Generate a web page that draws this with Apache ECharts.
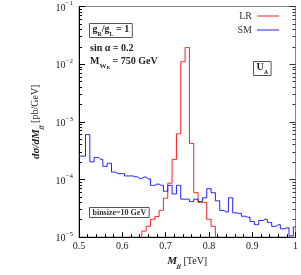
<!DOCTYPE html>
<html><head><meta charset="utf-8">
<script src="https://cdn.jsdelivr.net/npm/echarts@6/dist/echarts.min.js"></script>
<style>html,body{margin:0;padding:0;background:#fff}#c{width:301px;height:275px}</style>
</head><body><div id="c"></div>
<script>
// ---- data ----
const binCenters = [0.50,0.51,0.52,0.53,0.54,0.55,0.56,0.57,0.58,0.59,
  0.60,0.61,0.62,0.63,0.64,0.65,0.66,0.67,0.68,0.69,
  0.70,0.71,0.72,0.73,0.74,0.75,0.76,0.77,0.78,0.79,
  0.80,0.81,0.82,0.83,0.84,0.85,0.86,0.87,0.88,0.89,
  0.90,0.91,0.92,0.93,0.94,0.95,0.96,0.97,0.98,0.99,1.00];
const lrValues = [null,null,null,null,null,null,null,null,null,null,
  null,null,null,null,1e-7,1.27e-5,1.54e-5,2.04e-5,2.27e-5,2.91e-5,
  4.73e-5,8.6e-5,2.23e-4,6.2e-4,1.1e-2,1.94e-2,4.2e-4,5.9e-5,4.0e-5,4.0e-5,
  2.04e-5,1.54e-5,1e-7,null,null,null,null,null,null,null,
  null,null,null,null,null,null,null,null,null,null,null];
const smValues = [2.54e-4,2.54e-4,6.0e-4,2.02e-4,2.41e-4,2.23e-4,1.69e-4,1.91e-4,1.34e-4,1.26e-4,
  1.26e-4,1.15e-4,1.15e-4,1.11e-4,1.04e-4,1.10e-4,1.02e-4,7.9e-5,8.3e-5,7.9e-5,
  6.25e-5,7.9e-5,5.6e-5,7.9e-5,4.55e-5,4.55e-5,4.15e-5,4.55e-5,4.15e-5,4.8e-5,
  6.9e-5,5.9e-5,4.27e-5,2.9e-5,2.73e-5,4.8e-5,2.63e-5,2.57e-5,2.3e-5,2.2e-5,
  1.86e-5,1.64e-5,1.94e-5,2.04e-5,1.79e-5,1.54e-5,1.64e-5,1.39e-5,1.45e-5,1.05e-5,1.5e-5];
const seriesNames = ['LR','SM'];
const xTickValues = [0.5,0.6,0.7,0.8,0.9,1.0];
const xTickLabels = ['0.5','0.6','0.7','0.8','0.9','1'];
const yTickExponents = ['−5','−4','−3','−2','−1'];

// ---- chart ----
const FONT = 'Liberation Serif';
const yMin = 1e-5, yMax = 1e-1;
const minorTicks = [];
for (let e = -5; e < -1; e++) for (let m = 2; m <= 9; m++) minorTicks.push(m * Math.pow(10, e));

const supRich = {
  b: {fontFamily: FONT, fontSize: 10, color: '#222', verticalAlign: 'bottom', lineHeight: 13},
  s: {fontFamily: FONT, fontSize: 7, color: '#222', verticalAlign: 'top', lineHeight: 13}
};
function yLabel(v) {
  const e = Math.round(Math.log10(v));
  const i = e + 5;
  if (i < 0 || i >= yTickExponents.length) return '';
  return '{b|10}{s|' + yTickExponents[i] + '}';
}
function logAxis(pos, opts) {
  return Object.assign({
    type: 'log', logBase: 10, min: yMin, max: yMax, position: pos,
    axisLine: {show: false}, splitLine: {show: false},
    axisLabel: {show: false}, axisTick: {show: false}
  }, opts);
}
const chart = echarts.init(document.getElementById('c'), null, {renderer: 'canvas'});
chart.setOption({
  animation: false,
  backgroundColor: '#fff',
  grid: {left: 79, right: 5, top: 5, bottom: 27, show: true, borderColor: '#888', borderWidth: 1, containLabel: false},
  legend: {
    data: seriesNames.map(n => ({name: n, icon: 'rect'})), orient: 'vertical', align: 'right', right: 17, top: 6,
    itemWidth: 22, itemHeight: 1, itemGap: 4,
    textStyle: {fontFamily: FONT, fontSize: 10, color: '#333'}
  },
  xAxis: {
    type: 'value', min: 0.5, max: 1.0, interval: 0.1, position: 'bottom',
    axisLine: {show: true, onZero: false, lineStyle: {color: '#000', width: 1}},
    axisTick: {show: true, inside: true, length: 5, lineStyle: {color: '#000'}},
    minorTick: {show: true, splitNumber: 5, length: 3, lineStyle: {color: '#000'}},
    splitLine: {show: false},
    axisLabel: {fontFamily: FONT, fontSize: 10, color: '#222', margin: 4,
      formatter: v => { const i = xTickValues.findIndex(t => Math.abs(t - v) < 1e-6); return i >= 0 ? xTickLabels[i] : ''; }},
    name: '{i|M}{s|jj}{r| [TeV]}', nameLocation: 'middle', nameGap: 14,
    nameTextStyle: {rich: {
      i: {fontFamily: FONT, fontSize: 11, fontStyle: 'italic', fontWeight: 'bold', color: '#222', verticalAlign: 'top', lineHeight: 14},
      s: {fontFamily: FONT, fontSize: 7, fontStyle: 'italic', fontWeight: 'bold', color: '#222', verticalAlign: 'bottom', lineHeight: 14},
      r: {fontFamily: FONT, fontSize: 10, color: '#222', verticalAlign: 'top', lineHeight: 14}
    }}
  },
  yAxis: [
    logAxis('left', {
      axisLine: {show: true, lineStyle: {color: '#000', width: 1}},
      axisTick: {show: true, inside: true, length: 6, lineStyle: {color: '#000'}},
      axisLabel: {show: true, margin: 6, formatter: yLabel, rich: supRich},
      name: '{i|dσ/dM}{s|jj}{r| [pb/GeV]}', nameLocation: 'middle', nameGap: 32, nameRotate: 90,
      nameTextStyle: {rich: {
        i: {fontFamily: FONT, fontSize: 11, fontStyle: 'italic', fontWeight: 'bold', color: '#222', verticalAlign: 'top', lineHeight: 14},
        s: {fontFamily: FONT, fontSize: 7, fontStyle: 'italic', fontWeight: 'bold', color: '#222', verticalAlign: 'bottom', lineHeight: 14},
        r: {fontFamily: FONT, fontSize: 10, color: '#222', verticalAlign: 'top', lineHeight: 14}
      }}
    }),
    logAxis('left', {axisTick: {show: true, inside: true, length: 3, customValues: minorTicks, lineStyle: {color: '#000'}}}),
    logAxis('right', {
      axisLine: {show: true, lineStyle: {color: '#888', width: 1}},
      axisTick: {show: true, inside: true, length: 6, lineStyle: {color: '#333'}}
    }),
    logAxis('right', {axisTick: {show: true, inside: true, length: 3, customValues: minorTicks, lineStyle: {color: '#333'}}})
  ],
  series: [
    {name: seriesNames[0], type: 'line', step: 'middle', showSymbol: false, symbol: 'none', clip: true,
     yAxisIndex: 0, connectNulls: false, lineStyle: {color: '#ff2020', width: 1}, itemStyle: {color: '#ff2020'},
     data: binCenters.map((x, i) => [x, lrValues[i]])},
    {name: seriesNames[1], type: 'line', step: 'middle', showSymbol: false, symbol: 'none', clip: true,
     yAxisIndex: 0, lineStyle: {color: '#2020ff', width: 1}, itemStyle: {color: '#2020ff'},
     data: binCenters.map((x, i) => [x, smValues[i]])}
  ],
  graphic: [
    {type: 'text', left: 89, top: 23, style: {
      text: '{a|g}{s|R}{a|/g}{s|L}{a| = 1}', borderColor: '#555', borderWidth: 1, padding: [1, 3, 0, 3],
      rich: {a: {fontFamily: FONT, fontSize: 10, fontWeight: 'bold', fill: '#222', verticalAlign: 'top', lineHeight: 13},
             s: {fontFamily: FONT, fontSize: 6, fontWeight: 'bold', fill: '#222', verticalAlign: 'bottom', lineHeight: 13}}}},
    {type: 'text', left: 90, top: 43, style: {text: 'sin α = 0.2', font: 'bold 10px "Liberation Serif"', fill: '#222'}},
    {type: 'text', left: 90, top: 56, style: {
      text: '{a|M}{s|W}{t|R}{a| = 750 GeV}',
      rich: {a: {fontFamily: FONT, fontSize: 10, fontWeight: 'bold', fill: '#222', verticalAlign: 'top', lineHeight: 14},
             s: {fontFamily: FONT, fontSize: 7, fontWeight: 'bold', fill: '#222', verticalAlign: 'bottom', lineHeight: 14},
             t: {fontFamily: FONT, fontSize: 5, fontWeight: 'bold', fill: '#222', verticalAlign: 'bottom', lineHeight: 12}}}},
    {type: 'text', left: 253, top: 61, style: {
      text: '{a|U}{s|A}', borderColor: '#555', borderWidth: 1, padding: [1, 3, 0, 3],
      rich: {a: {fontFamily: FONT, fontSize: 10, fontWeight: 'bold', fill: '#222', verticalAlign: 'top', lineHeight: 13},
             s: {fontFamily: FONT, fontSize: 6, fontWeight: 'bold', fill: '#222', verticalAlign: 'bottom', lineHeight: 13}}}},
    {type: 'text', left: 89, top: 207, style: {
      text: 'binsize=10 GeV', font: 'bold 8px "Liberation Serif"', fill: '#333',
      borderColor: '#555', borderWidth: 1, padding: [1, 3, 1, 3]}}
  ]
});
</script>
</body></html>
